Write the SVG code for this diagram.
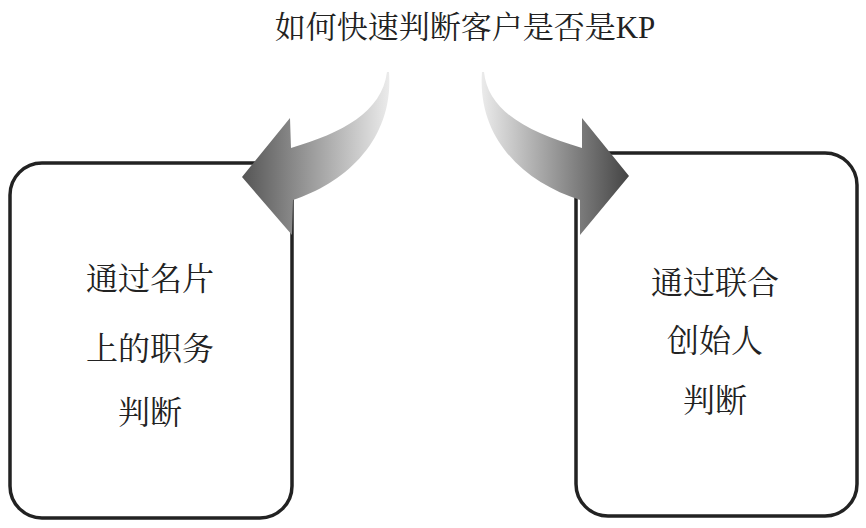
<svg xmlns="http://www.w3.org/2000/svg" width="866" height="528" viewBox="0 0 866 528">
<defs>
<linearGradient id="gl" gradientUnits="userSpaceOnUse" x1="242" y1="0" x2="392" y2="0"><stop offset="0" stop-color="#555"/><stop offset="1" stop-color="#eee"/></linearGradient>
<linearGradient id="gr" gradientUnits="userSpaceOnUse" x1="629" y1="0" x2="479" y2="0"><stop offset="0" stop-color="#444"/><stop offset="1" stop-color="#eee"/></linearGradient>
<style>
.box{fill:#fff;stroke:#222;stroke-width:3.5}
text{font-family:"Liberation Serif","Noto Serif CJK SC","Noto Sans CJK SC",serif;font-size:32px;fill:#222;text-anchor:middle}
</style>
</defs>
<text x="465" y="38" style="font-size:31px">如何快速判断客户是否是KP</text>
<g id="left-box"><rect class="box" x="10" y="163" width="282" height="355" rx="32"/>
<text x="150" y="290">通过名片</text><text x="150" y="360">上的职务</text><text x="150" y="424">判断</text></g>
<g id="right-box"><rect class="box" x="576" y="153" width="281" height="363" rx="32"/>
<text x="715" y="294">通过联合</text><text x="715" y="352">创始人</text><text x="715" y="412">判断</text></g>
<g id="connectors">
<path fill="url(#gl)" d="M389,72 C394,140 345,183 293,200 L292,235 L242,177 L290,118 L291,148 C342,133 382,112 387,72 Z"/>
<path fill="url(#gr)" d="M482,72 C477,140 526,183 580,200 L580,235 L629,176 L582,118 L582,148 C530,133 488,112 484,72 Z"/>
</g>
</svg>
